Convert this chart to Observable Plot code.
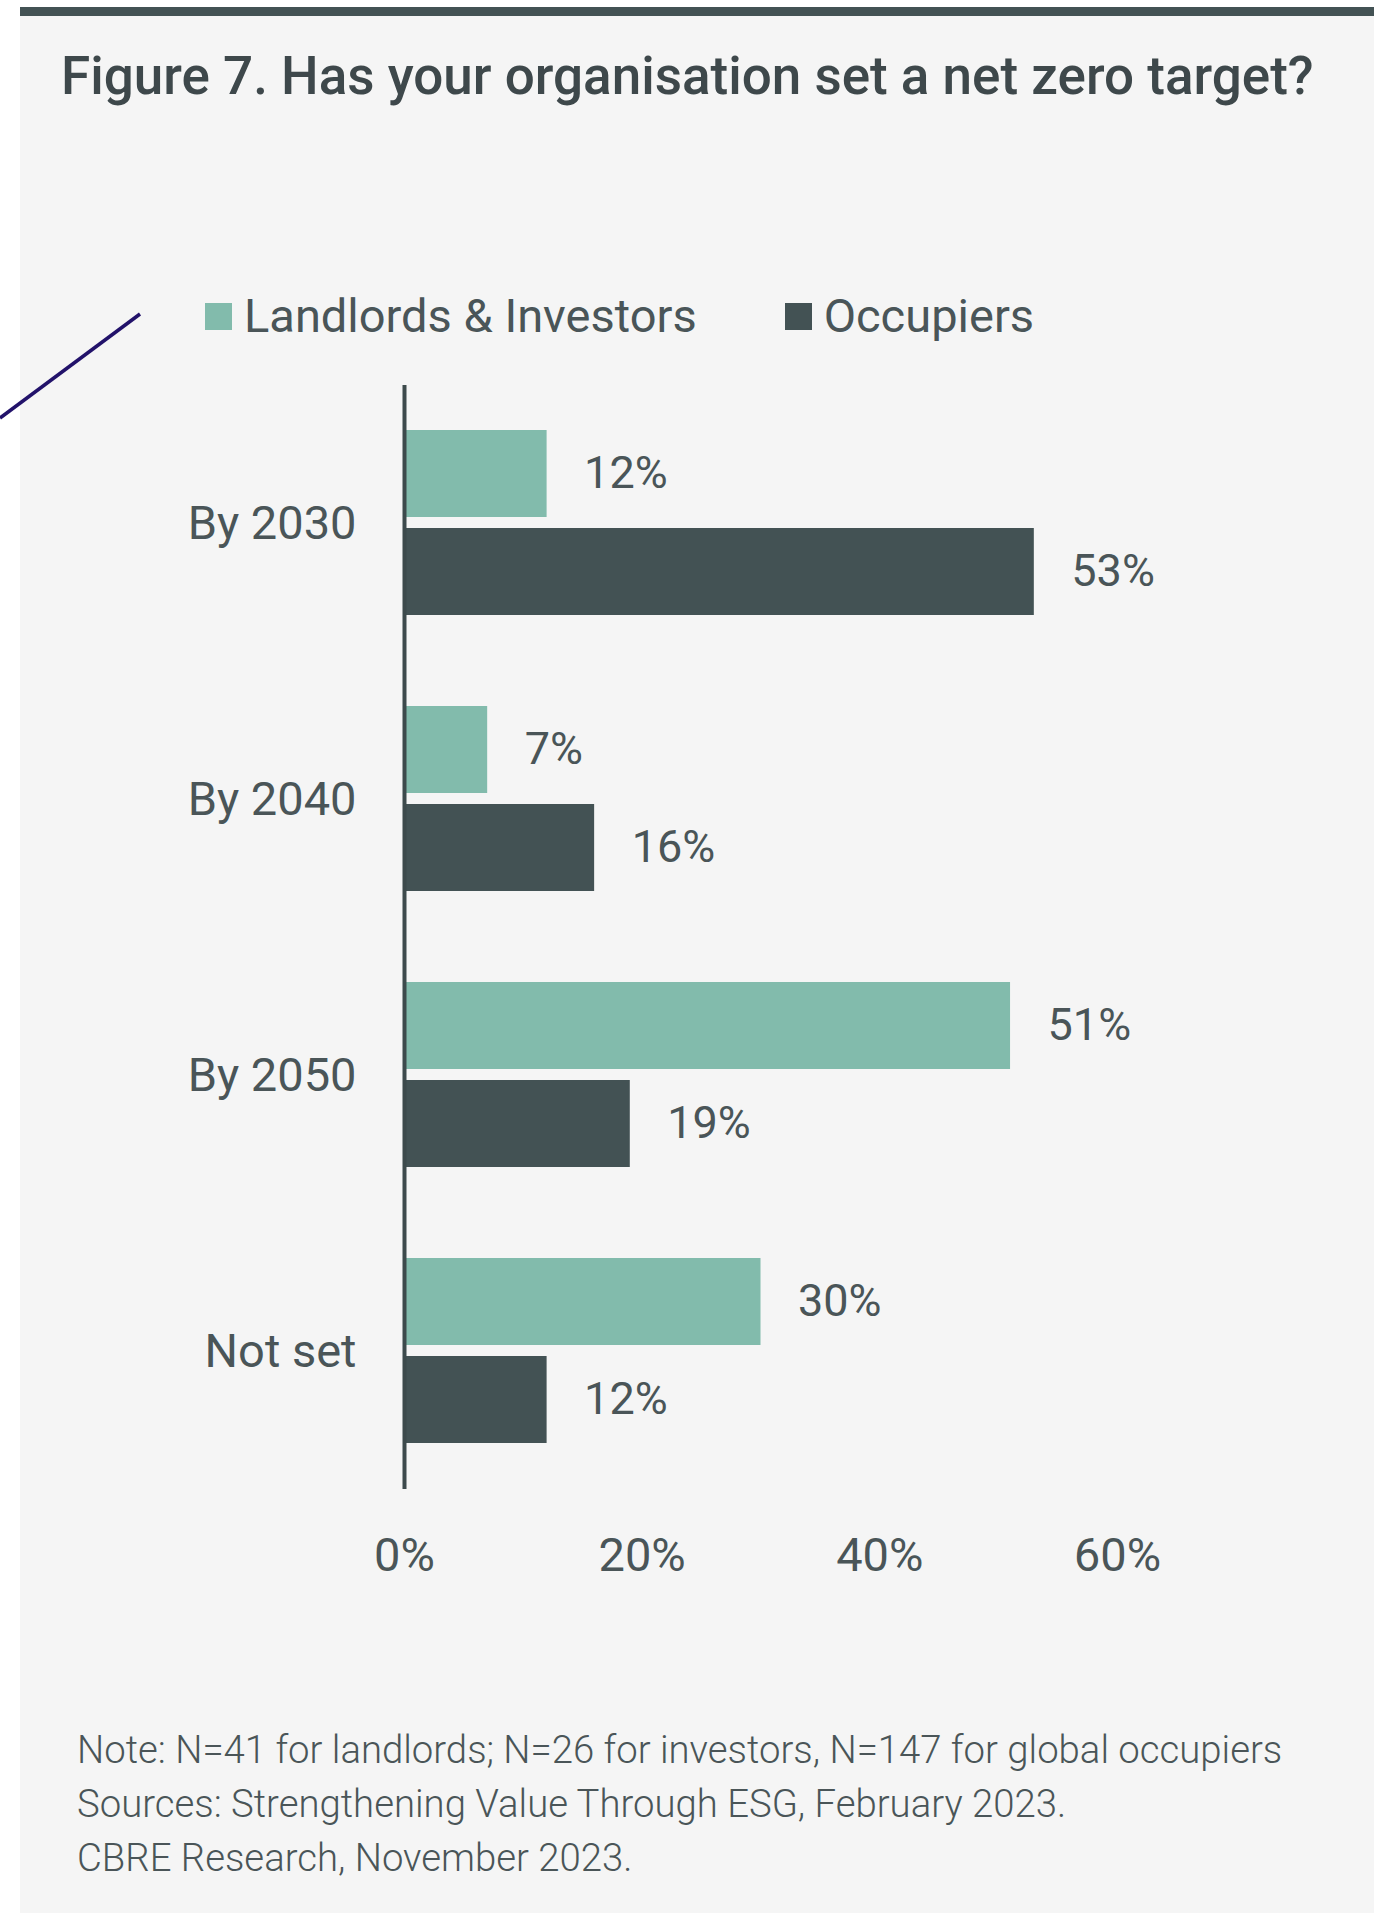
<!DOCTYPE html>
<html>
<head>
<meta charset="utf-8">
<script src="https://cdn.jsdelivr.net/npm/d3@7"></script>
<script src="https://cdn.jsdelivr.net/npm/@observablehq/plot@0.6"></script>
<style>
  html, body { margin: 0; padding: 0; background: #ffffff; }
  body { width: 1374px; height: 1913px; position: relative; overflow: hidden; font-family: Roboto, "Noto Sans", sans-serif; }
  #panel { position: absolute; left: 20px; top: 7px; width: 1354px; height: 1906px; background: #f5f5f5; border-top: 9px solid #435254; box-sizing: border-box; }
  #title { position: absolute; left: 61px; top: 43px; font-size: 53px; font-weight: 500; color: #3e484b; white-space: nowrap; line-height: 66px; }
  #legend { position: absolute; left: 205px; top: 287px; display: flex; align-items: center; font-size: 47px; color: #4a5558; line-height: 58px; white-space: nowrap; }
  #legend .item { display: flex; align-items: center; margin-right: 88px; }
  #legend .sw { width: 27px; height: 27px; margin-right: 12px; }
  #chart { position: absolute; left: 20px; top: 340px; }
  #footer { position: absolute; left: 77px; top: 1723px; font-size: 38.3px; font-weight: 300; color: #4a5558; line-height: 54px; white-space: nowrap; }
  #deco { position: absolute; left: 0; top: 0; pointer-events: none; }
</style>
</head>
<body>
<div id="panel"></div>
<div id="title"></div>
<div id="legend"></div>
<div id="chart"></div>
<div id="footer"></div>
<svg id="deco" width="200" height="450"><line x1="0" y1="418" x2="140" y2="314" stroke="#22126a" stroke-width="3.5"/></svg>
<script>
// ---- data ----
const titleText = "Figure 7. Has your organisation set a net zero target?";
const categories = ["By 2030", "By 2040", "By 2050", "Not set"];
const series = ["Landlords & Investors", "Occupiers"];
const landlordsInvestors = [12, 7, 51, 30];
const occupiers = [53, 16, 19, 12];
const xTicks = [0, 20, 40, 60];
const seriesColors = ["#82bbac", "#435254"];
const footerLines = [
  "Note: N=41 for landlords; N=26 for investors, N=147 for global occupiers",
  "Sources: Strengthening Value Through ESG, February 2023.",
  "CBRE Research, November 2023."
];

// ---- table ----
const rows = [];
categories.forEach((c, i) => {
  rows.push({category: c, series: series[0], value: landlordsInvestors[i]});
  rows.push({category: c, series: series[1], value: occupiers[i]});
});

document.getElementById("title").textContent = titleText;

const legend = document.getElementById("legend");
series.forEach((s, i) => {
  const item = document.createElement("div");
  item.className = "item";
  const sw = document.createElement("div");
  sw.className = "sw";
  sw.style.background = seriesColors[i];
  const label = document.createElement("span");
  label.textContent = s;
  item.appendChild(sw);
  item.appendChild(label);
  legend.appendChild(item);
});

const footer = document.getElementById("footer");
footerLines.forEach(t => {
  const d = document.createElement("div");
  d.textContent = t;
  footer.appendChild(d);
});

const chart = Plot.plot({
  width: 1354,
  height: 1270,
  marginTop: 44,
  marginBottom: 121,
  marginLeft: 384,
  marginRight: 257,
  style: {background: "transparent", fontFamily: "Roboto, 'Noto Sans', sans-serif", fontSize: "47px", color: "#4a5558", overflow: "visible"},
  facet: {data: rows, y: "category", label: null},
  x: {domain: [0, 60], ticks: xTicks, tickFormat: d => d + "%", tickSize: 0, tickPadding: 48, label: null},
  y: {domain: series, axis: null, paddingInner: 0.11, paddingOuter: 0.456},
  fy: {domain: categories, padding: 0, axis: "left", tickSize: 0, tickPadding: 48, label: null},
  color: {domain: series, range: seriesColors},
  marks: [
    Plot.barX(rows, {x: "value", y: "series", fill: "series"}),
    Plot.text(rows, {x: "value", y: "series", text: d => d.value + "%", textAnchor: "start", dx: 37, fontSize: 45, fill: "#4a5558"}),
    Plot.ruleX([0], {stroke: "#3d4a4c", strokeWidth: 4})
  ]
});
document.getElementById("chart").appendChild(chart);
</script>
</body>
</html>
